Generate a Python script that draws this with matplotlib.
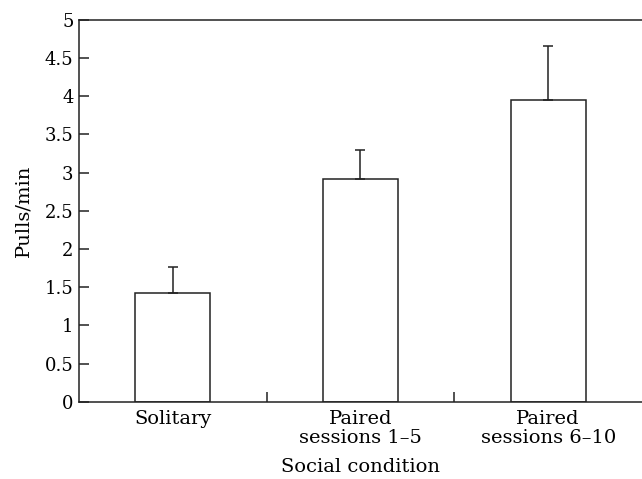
import numpy as np
import matplotlib
matplotlib.use("Agg")
import matplotlib.pyplot as plt
from matplotlib.ticker import FuncFormatter

conditions = ["Solitary", "Paired\nsessions 1\u20135", "Paired\nsessions 6\u201310"]
pulls_per_min = [1.42, 2.91, 3.95]
sem = [0.35, 0.39, 0.70]

plt.rcParams["font.family"] = ["DejaVu Serif"]
plt.rcParams["font.size"] = 14

fig = plt.figure(figsize=(6.42, 4.79), dpi=100)
ax = fig.add_axes([0.123, 0.161, 0.877, 0.798])

x = np.arange(len(conditions))
ax.bar(x, pulls_per_min, width=0.4, color="white", edgecolor="#222222",
       linewidth=1.1, zorder=2)
ax.errorbar(x, pulls_per_min, yerr=[np.zeros(len(sem)), sem], fmt="none",
            ecolor="#222222", elinewidth=1.1, capsize=3.6, capthick=1.1, zorder=3)

ax.set_xlim(-0.5, 2.5)
ax.set_ylim(0, 5)
ax.set_yticks(np.arange(0, 5.01, 0.5))
ax.yaxis.set_major_formatter(FuncFormatter(lambda v, _: f"{v:g}"))

# boundary ticks between groups, labels centred under the bars
ax.set_xticks([0.5, 1.5])
ax.set_xticklabels([])
ax.set_xticks(x, minor=True)
ax.set_xticklabels(conditions, minor=True, linespacing=1.05)
ax.tick_params(axis="x", which="minor", length=0, pad=6)
ax.tick_params(axis="x", which="major", direction="in", length=7, width=1.1, color="#222222")
ax.tick_params(axis="y", direction="in", length=7, width=1.1, color="#222222",
               pad=4, labelsize=13)

for side in ["left", "bottom", "top"]:
    ax.spines[side].set_linewidth(1.1)
    ax.spines[side].set_color("#222222")
ax.spines["right"].set_visible(False)

ax.set_ylabel("Pulls/min", labelpad=9)
ax.set_xlabel("Social condition", labelpad=8)

fig.savefig("out.png", dpi=100)
